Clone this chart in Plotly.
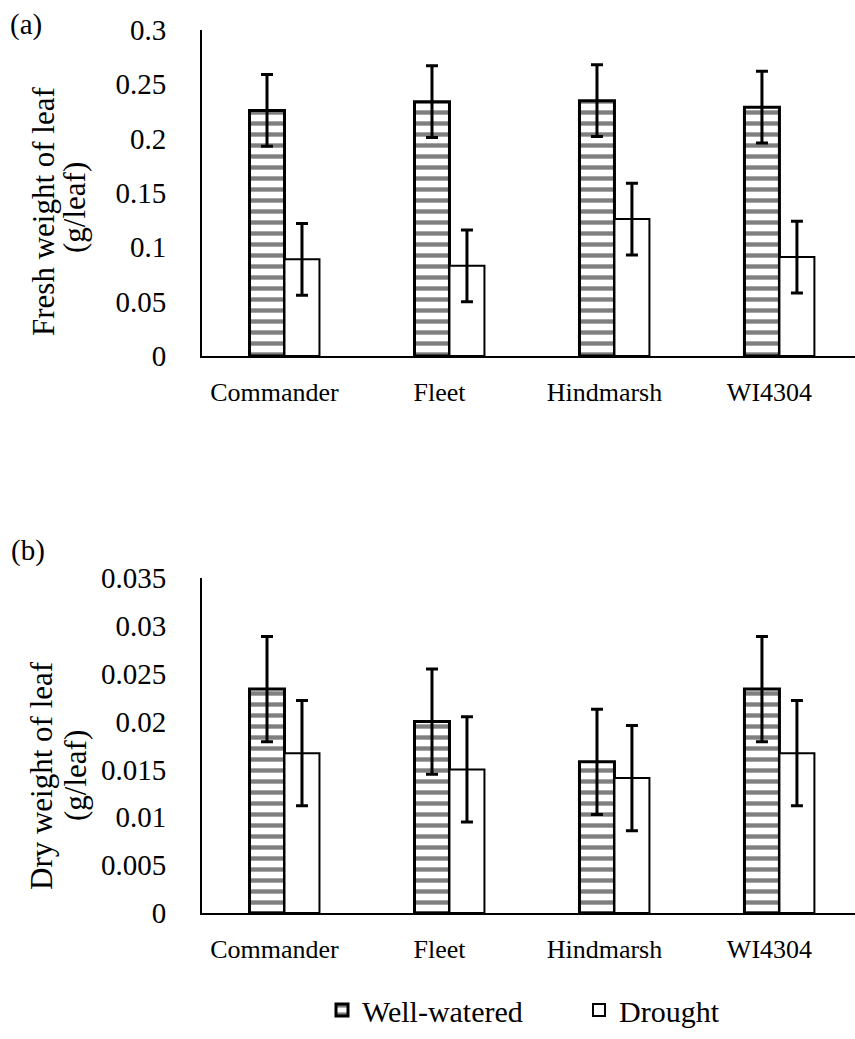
import plotly.graph_objects as go

# Cultivars and treatments
cultivars = ["Commander", "Fleet", "Hindmarsh", "WI4304"]
treatments = ["Well-watered", "Drought"]

# (a) Fresh weight of leaf (g/leaf)
fresh_ww = [0.226, 0.234, 0.235, 0.229]
fresh_dr = [0.089, 0.083, 0.126, 0.091]
fresh_ww_err = [0.033, 0.033, 0.033, 0.033]
fresh_dr_err = [0.033, 0.033, 0.033, 0.033]

# (b) Dry weight of leaf (g/leaf)
dry_ww = [0.0234, 0.0200, 0.0158, 0.0234]
dry_dr = [0.0167, 0.0150, 0.0141, 0.0167]
dry_ww_err = [0.0055, 0.0055, 0.0055, 0.0055]
dry_dr_err = [0.0055, 0.0055, 0.0055, 0.0055]

# Axis ticks
fresh_ticks = [0, 0.05, 0.1, 0.15, 0.2, 0.25, 0.3]
fresh_ticktext = ["0", "0.05", "0.1", "0.15", "0.2", "0.25", "0.3"]
dry_ticks = [0, 0.005, 0.01, 0.015, 0.02, 0.025, 0.03, 0.035]
dry_ticktext = ["0", "0.005", "0.01", "0.015", "0.02", "0.025", "0.03", "0.035"]

W, H = 855, 1039
FONT = "Liberation Serif, Times New Roman, serif"


def ypaper(px):
    return 1 - px / H


def ww_bar(y, err, xa, ya, show):
    return go.Bar(
        x=cultivars, y=y, name=treatments[0], xaxis=xa, yaxis=ya,
        offsetgroup="ww", showlegend=show, legendrank=1,
        marker=dict(
            color="white",
            line=dict(color="black", width=3),
            pattern=dict(shape="-", fgcolor="black", bgcolor="white",
                         size=11, solidity=0.4, fillmode="overlay"),
        ),
        error_y=dict(type="data", array=err, visible=True,
                     color="black", thickness=3, width=6),
    )


def dr_bar(y, err, xa, ya, show):
    return go.Bar(
        x=cultivars, y=y, name=treatments[1], xaxis=xa, yaxis=ya,
        offsetgroup="dr", showlegend=show, legendrank=2,
        marker=dict(color="white", line=dict(color="black", width=2)),
        error_y=dict(type="data", array=err, visible=True,
                     color="black", thickness=3, width=6),
    )


fig = go.Figure()
fig.add_trace(ww_bar(fresh_ww, fresh_ww_err, "x", "y", False))
fig.add_trace(dr_bar(fresh_dr, fresh_dr_err, "x", "y", False))
fig.add_trace(ww_bar(dry_ww, dry_ww_err, "x2", "y2", True))
fig.add_trace(dr_bar(dry_dr, dry_dr_err, "x2", "y2", True))

x_dom = [202 / W, 1.0]
x_range = [-0.5, 3.458]

xaxis_common = dict(
    domain=x_dom, range=x_range, type="category",
    showline=True, linecolor="black", linewidth=2,
    showgrid=False, zeroline=False, ticks="",
    tickfont=dict(family=FONT, size=26, color="black"),
    ticklabelstandoff=12, ticklabelshift=-10, automargin=False,
)
yaxis_common = dict(
    showline=True, linecolor="black", linewidth=2,
    showgrid=False, zeroline=False, ticks="",
    tickfont=dict(family=FONT, size=29, color="black"),
    ticklabelstandoff=28, automargin=False,
)

fig.update_layout(
    width=W, height=H,
    margin=dict(l=0, r=0, t=0, b=0, autoexpand=False),
    paper_bgcolor="white", plot_bgcolor="white",
    barmode="group", bargap=0.576, bargroupgap=0,
    font=dict(family=FONT, color="black"),
    xaxis=dict(**xaxis_common, anchor="y"),
    yaxis=dict(**yaxis_common, anchor="x",
               domain=[ypaper(356), ypaper(30)], range=[0, 0.3],
               tickvals=fresh_ticks, ticktext=fresh_ticktext),
    xaxis2=dict(**xaxis_common, anchor="y2"),
    yaxis2=dict(**yaxis_common, anchor="x2",
                domain=[ypaper(913), ypaper(578)], range=[0, 0.035],
                tickvals=dry_ticks, ticktext=dry_ticktext),
    legend=dict(
        orientation="h", x=322 / W, xanchor="left",
        y=ypaper(1010), yanchor="middle",
        font=dict(family=FONT, size=30, color="black"),
        itemwidth=30, traceorder="normal",
        entrywidth=212,
    ),
)

ann_font = dict(family=FONT, size=29, color="black")
title_font = dict(family=FONT, size=31, color="black")
annotations = [
    dict(text="(a)", x=26, y=24),
    dict(text="(b)", x=28, y=550),
]
for a in annotations:
    fig.add_annotation(text=a["text"], x=a["x"] / W, y=ypaper(a["y"]),
                       xref="paper", yref="paper", showarrow=False,
                       font=ann_font, xanchor="center", yanchor="middle")

titles = [
    ("Fresh weight of leaf", 43, 212),
    ("(g/leaf)", 75, 208),
    ("Dry weight of leaf", 41, 776),
    ("(g/leaf)", 75, 776),
]
for text, xc, yc in titles:
    fig.add_annotation(text=text, x=xc / W, y=ypaper(yc),
                       xref="paper", yref="paper", showarrow=False,
                       textangle=-90, font=title_font,
                       xanchor="center", yanchor="middle")

fig.write_html("out.html")
